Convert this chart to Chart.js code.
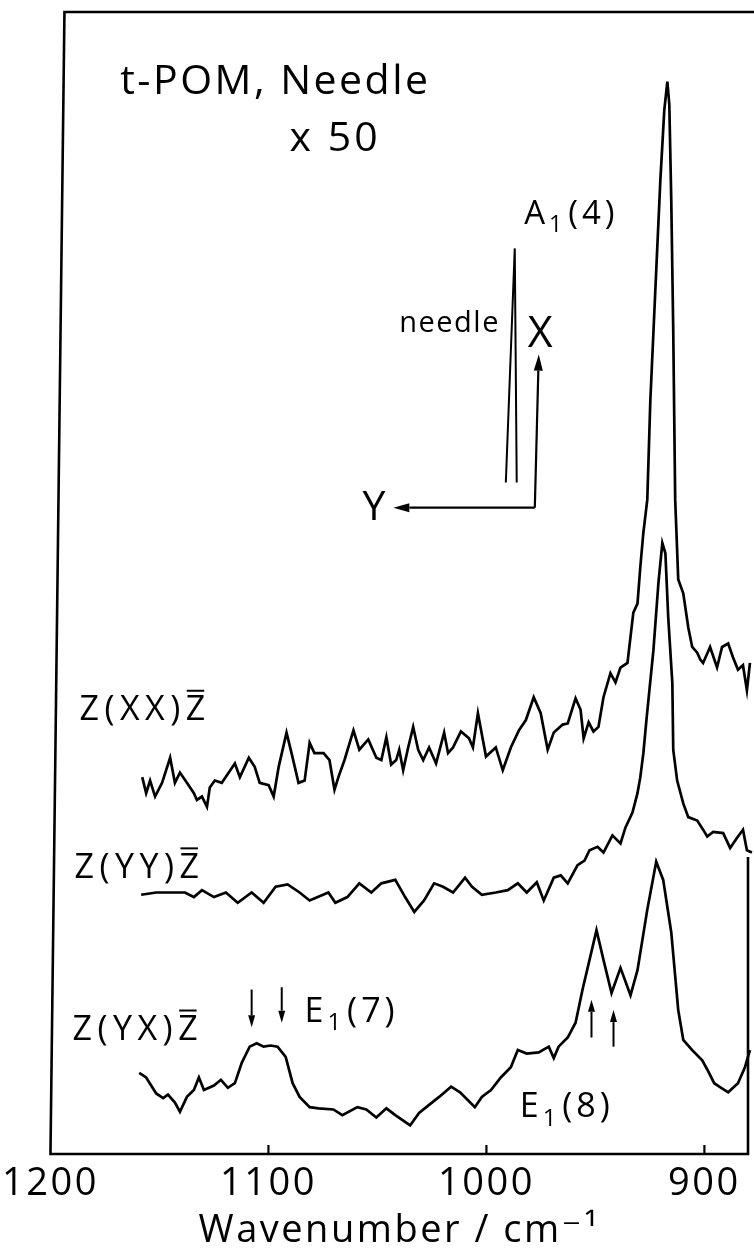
<!DOCTYPE html>
<html>
<head>
<meta charset="utf-8">
<title>t-POM, Needle — polarized Raman spectra</title>
<script src="https://cdn.jsdelivr.net/npm/chart.js@4.4.1/dist/chart.umd.min.js"></script>
<style>
  html, body { margin: 0; padding: 0; background: #fff; }
  #wrap { width: 754px; height: 1254px; position: relative; }
</style>
</head>
<body>
<div id="wrap"><canvas id="spectra"></canvas></div>
<script>
// ---- x-axis ticks (wavenumber, cm^-1) ----
const tickValues = [1200, 1100, 1000, 900];

// ---- Z(XX)Z̄ spectrum ----
const zxxWavenumber = [
  1157.9,1156.1,1154.3,1152.0,1148.8,1145.1,1142.9,1140.6,1137.4,1134.2,
  1132.8,1130.5,1128.2,1126.9,1124.6,1121.4,1118.2,1115.4,1113.1,1109.0,
  1106.3,1104.0,1099.9,1097.6,1095.3,1091.7,1089.4,1086.2,1083.4,1081.1,
  1078.9,1074.7,1072.0,1069.7,1067.9,1065.1,1061.0,1058.3,1054.2,1050.5,
  1048.2,1045.9,1043.7,1041.4,1040.0,1038.2,1035.9,1033.6,1031.3,1029.0,
  1026.3,1023.1,1019.4,1017.6,1015.3,1011.7,1008.0,1006.2,1003.9,1000.2,
  995.7,992.5,988.8,985.1,981.9,978.3,975.1,971.9,969.1,965.0,
  962.7,959.1,956.8,955.4,953.1,950.9,948.6,946.3,943.1,940.8,
  938.5,935.3,932.6,930.7,929.4,928.0,926.2,924.8,922.5,920.2,
  918.4,917.0,916.1,915.2,914.3,913.4,912.0,909.7,907.4,905.6,
  903.3,901.9,900.6,897.4,894.2,891.9,889.1,886.9,884.6,882.3,880.5,879.1
];
const zxxIntensity = [
  33.0,31.6,32.7,31.3,32.5,34.7,32.5,33.4,32.5,31.6,
  31.0,31.3,30.4,32.1,32.7,32.5,33.4,34.2,33.0,34.7,
  33.9,32.5,32.3,31.3,33.9,36.9,35.1,32.5,32.7,36.0,
  35.1,35.1,34.5,31.9,33.0,34.5,37.1,35.4,36.3,34.7,
  34.5,36.5,34.1,34.5,35.4,33.6,35.6,37.4,35.4,34.5,
  35.6,34.2,36.9,35.1,35.6,37.0,36.4,35.6,38.6,34.8,
  35.6,33.6,35.6,37.1,38.0,40.0,38.6,35.4,36.9,37.6,
  37.7,39.9,38.9,36.4,37.8,37.0,37.4,40.0,42.1,41.3,
  42.6,43.0,47.4,48.2,51.4,54.4,57.3,66.0,75.7,85.3,
  91.4,93.9,91.9,83.5,72.2,57.3,50.3,49.1,46.1,44.4,
  43.9,43.3,43.0,44.4,42.6,44.4,44.7,43.5,42.4,42.8,40.6,43.0
];

// ---- Z(YY)Z̄ spectrum ----
const zyyWavenumber = [
  1158.4,1151.5,1145.1,1138.3,1134.2,1130.5,1125.0,1119.5,1114.1,1107.7,
  1102.2,1096.7,1091.2,1085.7,1081.1,1072.5,1069.3,1063.8,1058.3,1052.8,
  1048.2,1041.8,1037.3,1033.1,1028.6,1024.0,1019.9,1015.3,1009.8,1006.6,
  1002.1,995.7,990.2,985.6,981.5,976.9,973.7,969.1,965.9,962.7,
  958.2,955.0,952.7,949.0,946.3,942.2,938.5,936.2,933.0,930.7,
  929.4,928.0,926.6,923.4,921.1,919.3,917.9,916.6,914.7,914.3,
  912.5,909.7,907.4,903.3,900.6,898.7,896.0,891.4,888.2,885.0,882.3,880.5,878.2
];
const zyyIntensity = [
  22.7,22.9,22.9,22.9,22.5,23.1,22.5,22.9,22.0,22.9,
  22.0,23.4,23.6,22.9,22.2,22.9,22.0,22.5,23.7,22.9,
  23.7,24.0,22.5,21.2,22.2,23.7,23.4,22.9,24.2,23.4,
  22.7,22.9,23.1,23.7,22.9,23.8,22.2,24.2,24.4,23.7,
  25.3,25.7,26.6,26.9,26.4,27.9,27.2,28.6,29.9,31.6,
  33.0,35.1,38.0,44.1,50.0,53.5,52.6,47.0,41.2,35.4,
  32.7,30.7,29.5,29.2,28.4,27.8,28.2,28.1,26.8,27.7,28.4,26.6,26.4
];

// ---- Z(YX)Z̄ spectrum ----
const zyxWavenumber = [
  1159.3,1156.1,1151.5,1148.3,1146.1,1142.9,1140.6,1137.4,1134.2,1131.9,
  1129.6,1125.0,1121.8,1118.6,1115.4,1112.2,1108.6,1105.4,1102.2,1099.0,
  1095.8,1092.1,1088.9,1085.7,1081.1,1077.0,1070.2,1066.1,1059.2,1055.1,
  1050.5,1045.9,1041.8,1035.0,1030.9,1026.3,1021.7,1016.2,1012.1,1005.3,
  1002.1,997.9,993.4,988.8,985.6,981.5,976.0,971.4,969.1,966.9,
  962.7,959.1,955.9,952.7,949.5,946.3,942.6,938.5,933.9,930.7,
  926.2,922.1,918.9,915.2,912.0,909.7,905.6,901.0,898.7,895.5,892.3,889.1,884.6,881.4,879.1
];
const zyxIntensity = [
  7.1,6.7,5.3,4.9,5.2,4.5,3.7,5.0,5.6,6.7,
  5.6,6.0,6.5,5.8,6.2,8.0,9.4,9.7,9.4,9.5,
  9.4,8.5,6.2,5.0,4.1,4.0,3.9,3.4,4.1,3.9,
  3.2,4.0,3.4,2.5,3.6,4.3,5.0,5.9,5.4,4.1,
  5.0,5.6,6.7,7.6,9.1,8.8,8.9,9.4,8.4,9.4,
  10.2,11.5,14.4,17.0,19.6,17.0,14.1,16.3,13.9,16.1,
  21.4,25.6,24.0,19.4,12.6,10.0,9.1,8.2,7.4,6.2,5.8,5.4,6.2,7.6,9.1
];

// ---- drawing style ----
const INK = '#000';
const FONT = "'Open Sans', 'DejaVu Sans', sans-serif";
const WEIGHT = 400;

function toPoints(xs, ys) {
  return xs.map((x, i) => ({ x, y: ys[i] }));
}

function setFont(ctx, size, spacing) {
  ctx.font = `${WEIGHT} ${size}px ${FONT}`;
  ctx.letterSpacing = spacing + 'px';
}

function text(ctx, str, x, y, size, spacing) {
  setFont(ctx, size, spacing);
  ctx.fillText(str, x, y);
  return ctx.measureText(str).width;
}

// Symbol with a lowered subscript, e.g. A₁(4)
function subscripted(ctx, main, sub, rest, x, y, size, spacing) {
  let cx = x + text(ctx, main, x, y, size, spacing);
  cx += text(ctx, sub, cx, y + size * 0.24, size * 0.7, spacing);
  text(ctx, rest, cx + 2, y, size, spacing);
}

// Scattering geometry label Z(ab)Z̄ with an overbar on the last Z
function geometry(ctx, inner, x, y, size, spacing) {
  const head = 'Z(' + inner + ')';
  const hx = x + text(ctx, head, x, y, size, spacing);
  const zw = text(ctx, 'Z', hx, y, size, spacing) - spacing;
  const barY = y - size * 0.714 - 5;
  ctx.lineWidth = 2;
  ctx.beginPath();
  ctx.moveTo(hx + 1, barY);
  ctx.lineTo(hx + zw - 1, barY);
  ctx.stroke();
}

function arrow(ctx, x1, y1, x2, y2, len, half) {
  const a = Math.atan2(y2 - y1, x2 - x1);
  const bx = x2 - len * Math.cos(a), by = y2 - len * Math.sin(a);
  ctx.beginPath();
  ctx.moveTo(x1, y1);
  ctx.lineTo(bx, by);
  ctx.stroke();
  ctx.beginPath();
  ctx.moveTo(x2, y2);
  ctx.lineTo(bx + half * Math.sin(a), by - half * Math.cos(a));
  ctx.lineTo(bx - half * Math.sin(a), by + half * Math.cos(a));
  ctx.closePath();
  ctx.fill();
}

// Frame, inward ticks and the text/arrow annotations, placed in data units
const decorations = {
  id: 'decorations',
  beforeDraw(chart) {
    chart.ctx.letterSpacing = '2.5px';
  },
  afterDraw(chart) {
    const { ctx, chartArea: a } = chart;
    const X = w => chart.scales.x.getPixelForValue(w);
    const Y = v => chart.scales.y.getPixelForValue(v);
    ctx.save();
    ctx.strokeStyle = INK;
    ctx.fillStyle = INK;
    ctx.textBaseline = 'alphabetic';
    ctx.textAlign = 'left';
    ctx.lineJoin = 'miter';

    // frame (left side leans slightly, right side only in the lower part)
    ctx.lineWidth = 2.6;
    ctx.beginPath();
    ctx.moveTo(chart.width, a.top);
    ctx.lineTo(a.left + 14, a.top);
    ctx.lineTo(a.left, a.bottom);
    ctx.lineTo(a.right, a.bottom);
    ctx.lineTo(a.right, Y(26));
    ctx.stroke();

    // inward tick marks
    ctx.lineWidth = 2.2;
    tickValues.filter(t => t < 1200).forEach(t => {
      ctx.beginPath();
      ctx.moveTo(X(t), a.bottom);
      ctx.lineTo(X(t), a.bottom - 9);
      ctx.stroke();
    });

    // sample and magnification
    text(ctx, 't-POM, Needle', X(1168.0), Y(92.8), 41, 2.5);
    text(ctx, 'x 50', X(1090.3), Y(87.8), 41, 3);

    // band assignment for the strong line
    subscripted(ctx, 'A', '1', '(4)', X(982.7), Y(81.4), 33, 4);

    // needle orientation sketch and lab axes
    ctx.lineWidth = 2;
    ctx.beginPath();
    ctx.moveTo(X(991.1), Y(58.8));
    ctx.lineTo(X(987.0), Y(79.3));
    ctx.lineTo(X(986.1), Y(58.8));
    ctx.stroke();
    text(ctx, 'needle', X(1040.0), Y(72.0), 29, 1.5);
    ctx.lineWidth = 2.2;
    arrow(ctx, X(977.8), Y(56.6), X(976.0), Y(70.0), 16, 4.5);
    arrow(ctx, X(977.8), Y(56.6), X(1042.7), Y(56.6), 16, 4.5);
    text(ctx, 'X', X(981.0), Y(70.7), 43, 0);
    text(ctx, 'Y', X(1056.9), Y(55.5), 41, 0);

    // scattering geometries
    geometry(ctx, 'XX', X(1186.7), Y(38.0), 34, 5.5);
    geometry(ctx, 'YY', X(1189.0), Y(24.2), 34, 5.5);
    geometry(ctx, 'YX', X(1189.9), Y(10.0), 34, 5.5);

    // E1 modes with marker arrows
    subscripted(ctx, 'E', '1', '(7)', X(1083.4), Y(11.6), 34, 4);
    ctx.lineWidth = 2;
    arrow(ctx, X(1107.7), Y(14.4), X(1107.7), Y(11.1), 12, 3.5);
    arrow(ctx, X(1093.9), Y(14.6), X(1093.9), Y(11.5), 12, 3.5);
    subscripted(ctx, 'E', '1', '(8)', X(984.7), Y(3.2), 34, 4);
    arrow(ctx, X(951.8), Y(10.2), X(951.8), Y(13.5), 12, 3.5);
    arrow(ctx, X(941.7), Y(9.4), X(941.7), Y(12.6), 12, 3.5);

    ctx.restore();
  }
};

const traceStyle = {
  borderColor: INK,
  borderWidth: 2.7,
  pointRadius: 0,
  tension: 0,
  fill: false,
  clip: { left: 0, top: 0, right: 8, bottom: 0 }
};

new Chart(document.getElementById('spectra'), {
  type: 'line',
  data: {
    datasets: [
      { label: 'Z(XX)Z̄', data: toPoints(zxxWavenumber, zxxIntensity), ...traceStyle },
      { label: 'Z(YY)Z̄', data: toPoints(zyyWavenumber, zyyIntensity), ...traceStyle },
      { label: 'Z(YX)Z̄', data: toPoints(zyxWavenumber, zyxIntensity), ...traceStyle }
    ]
  },
  options: {
    responsive: true,
    maintainAspectRatio: false,
    devicePixelRatio: 1,
    animation: false,
    events: [],
    layout: { padding: { left: 48, right: 6, top: 12, bottom: 0 } },
    plugins: { legend: { display: false }, tooltip: { enabled: false } },
    scales: {
      x: {
        type: 'linear',
        position: 'bottom',
        reverse: true,
        min: 880,
        max: 1200,
        afterBuildTicks: scale => { scale.ticks = tickValues.map(value => ({ value })); },
        afterFit: scale => { scale.height = 100; },
        grid: { display: false, drawTicks: false },
        border: { display: false },
        ticks: {
          autoSkip: false,
          maxRotation: 0,
          padding: 7,
          color: INK,
          callback: value => String(value),
          font: { family: FONT, size: 38, weight: WEIGHT }
        },
        title: {
          display: true,
          text: 'Wavenumber / cm⁻¹',
          color: INK,
          padding: { top: 0, bottom: 0 },
          font: { family: FONT, size: 38, weight: WEIGHT }
        }
      },
      y: { display: false, min: 0, max: 100 }
    }
  },
  plugins: [decorations]
});
</script>
</body>
</html>
